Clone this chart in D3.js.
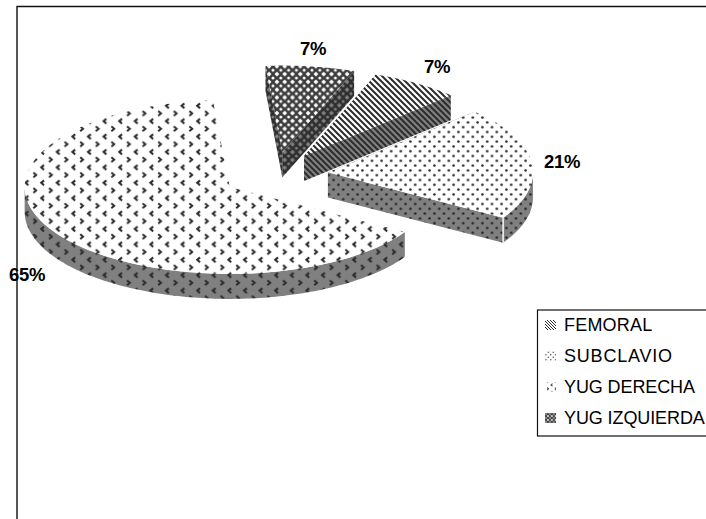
<!DOCTYPE html>
<html>
<head>
<meta charset="utf-8">
<script src="https://cdn.jsdelivr.net/npm/d3@7"></script>
<style>
html,body{margin:0;padding:0;background:#fff;overflow:hidden}
svg{display:block}
text{font-family:"Liberation Sans",Arial,sans-serif;fill:#000}
</style>
</head>
<body>
<svg id="chart" width="706" height="519"></svg>
<script>
// Catheter access sites, percent of cases
const categories = ["FEMORAL", "SUBCLAVIO", "YUG DERECHA", "YUG IZQUIERDA"];
const shares = [7, 21, 65, 7];
const shareLabels = ["7%", "21%", "65%", "7%"];

const svg = d3.select("#chart");
const W = 706, H = 519;

// Pie layout: clockwise from the top, first wedge starting a little past 12 o'clock
const firstAngle = 20.5 * Math.PI / 180;
const pie = d3.pie().sort(null).startAngle(firstAngle).endAngle(firstAngle + 2 * Math.PI);
const wedges = pie(shares);

// Tilted-disc projection
const centre = {x: 275, y: 175};
const radiusX = d3.scaleLinear().domain([0, 1]).range([0, 205]);
const radiusY = d3.scaleLinear().domain([0, 1]).range([0, 87]);
const depth = 25;
const explode = 0.26;

const project = (r, a, ox, oy, dz) => [
  centre.x + ox + radiusX(r) * Math.sin(a),
  centre.y + oy - radiusY(r) * Math.cos(a) + dz
];
const offsetOf = d => {
  const mid = (d.startAngle + d.endAngle) / 2;
  return [radiusX(explode) * Math.sin(mid), -radiusY(explode) * Math.cos(mid)];
};
const line = d3.line();
const sampleAngles = (a0, a1) => {
  const n = Math.max(2, Math.ceil(Math.abs(a1 - a0) / 0.02));
  return d3.range(n + 1).map(i => a0 + (a1 - a0) * i / n);
};

// Hatch fills: a light variant for the top surface, a dark one for the walls
const defs = svg.append("defs");
const ink = "#222";

function hatch(id, w, h, ground, draw, transform = "") {
  const p = defs.append("pattern").attr("id", id)
    .attr("patternUnits", "userSpaceOnUse")
    .attr("patternTransform", transform)
    .attr("width", w).attr("height", h);
  p.append("rect").attr("width", w).attr("height", h).attr("fill", ground);
  draw(p);
}
const stripes = p => {
  p.append("path").attr("d", "M-2,-2L8,8M-8,-2L2,8M4,-2L14,8")
    .attr("stroke", "#2c2c2c").attr("stroke-width", 2).attr("fill", "none");
};
const dots = p => {
  p.append("circle").attr("cx", 2.4).attr("cy", 2.4).attr("r", 1.3).attr("fill", ink);
  p.append("circle").attr("cx", 7.2).attr("cy", 7.2).attr("r", 1.3).attr("fill", ink);
};
const chevrons = p => {
  p.append("path").attr("d", "M2.2,1.2L5,3.6L2.2,6").attr("stroke", "#2a2a2a").attr("stroke-width", 2).attr("fill", "none");
  p.append("path").attr("d", "M12.8,9L10,11.4L12.8,13.8").attr("stroke", "#2a2a2a").attr("stroke-width", 2).attr("fill", "none");
};
const lattice = spot => p => {
  p.append("path").attr("d", "M3.9,1.5L6.3,3.9L3.9,6.3L1.5,3.9Z").attr("fill", spot);
  p.selectAll("circle").data([[0, 0], [7.8, 0], [0, 7.8], [7.8, 7.8]]).join("circle")
    .attr("cx", d => d[0]).attr("cy", d => d[1]).attr("r", 1.5).attr("fill", spot);
};

hatch("fem-top", 6, 6, "#fff", stripes);
hatch("fem-wall", 6, 6, "#808080", stripes);
hatch("sub-top", 9.6, 9.6, "#fff", dots);
hatch("sub-wall", 9.6, 9.6, "#808080", dots);
hatch("der-top", 15.6, 15.4, "#fff", chevrons, "translate(0,2)");
hatch("der-wall", 15.6, 15.4, "#808080", chevrons, "translate(0,2)");
hatch("izq-top", 7.8, 7.8, "#3c3c3c", lattice("#fff"));
hatch("izq-wall", 7.8, 7.8, "#2e2e2e", lattice("#808080"));

// The legend keys repeat the same hatches at a reduced size
const keyScale = "scale(0.5)";
hatch("fem-key", 6, 6, "#fff", stripes, keyScale);
hatch("sub-key", 9.6, 9.6, "#fff", dots, keyScale);
hatch("der-key", 15.6, 15.4, "#fff", chevrons, keyScale);
hatch("izq-key", 7.8, 7.8, "#3c3c3c", lattice("#fff"), keyScale);

const keys = ["fem", "sub", "der", "izq"];

// Chart frame: only the top and left rules fall inside the page
svg.append("path")
  .attr("d", `M17,${H}V6.5H${W}`)
  .attr("fill", "none").attr("stroke", "#111").attr("stroke-width", 1.4);

// Wedges are painted back to front
const paintOrder = [3, 0, 2, 1];
const g = svg.append("g");

paintOrder.forEach(i => {
  const d = wedges[i];
  const key = keys[i];
  const [ox, oy] = offsetOf(d);
  const a0 = d.startAngle, a1 = d.endAngle;
  const apexTop = project(0, 0, ox, oy, 0);
  const apexLow = project(0, 0, ox, oy, depth);
  const wall = `url(#${key}-wall)`;
  const radial = a => [project(1, a, ox, oy, 0), project(1, a, ox, oy, depth), apexLow, apexTop];

  // Flat cut faces at both wedge edges, only where they turn towards the viewer
  if (i !== 2) {
    [a0, a1].forEach(a => {
      g.append("path").attr("d", line(radial(a)) + "Z").attr("fill", wall);
    });
  }

  // Rounded outer wall: the part of the rim on the near half of the disc
  const lo = Math.max(a0, Math.PI / 2), hi = Math.min(a1, 3 * Math.PI / 2);
  if (hi > lo) {
    const angs = sampleAngles(lo, hi);
    const rim = angs.map(a => project(1, a, ox, oy, 0))
      .concat(angs.slice().reverse().map(a => project(1, a, ox, oy, depth)));
    g.append("path").attr("d", line(rim) + "Z").attr("fill", wall);
  }

  // Top surface
  const top = [apexTop].concat(sampleAngles(a0, a1).map(a => project(1, a, ox, oy, 0)));
  g.append("path").attr("d", line(top) + "Z").attr("fill", `url(#${key}-top)`);

  // White seam where the flat and rounded walls of the large dotted wedge meet
  if (i === 1) {
    const e0 = project(1, a1, ox, oy, 0), e1 = project(1, a1, ox, oy, depth);
    g.append("path").attr("d", line([e0, e1])).attr("stroke", "#fff").attr("stroke-width", 1.4);
  }
});

// Percentage labels
const labelAnchors = [[437, 73], [562, 168], [27, 281], [313, 55]];
svg.append("g").selectAll("text").data(shareLabels).join("text")
  .attr("x", (d, i) => labelAnchors[i][0])
  .attr("y", (d, i) => labelAnchors[i][1])
  .attr("text-anchor", "middle")
  .attr("font-size", 18.5).attr("font-weight", "bold")
  .attr("letter-spacing", -0.3)
  .text(d => d);

// Legend
const legendTracking = [0.2, 0.8, -0.1, -0.1];
const legend = svg.append("g");
legend.append("rect")
  .attr("x", 537.5).attr("y", 310).attr("width", 185).attr("height", 126)
  .attr("fill", "#fff").attr("stroke", "#111").attr("stroke-width", 1.2);
const rowY = d3.scalePoint().domain(categories).range([325, 418]);
const rows = legend.selectAll("g").data(categories).join("g")
  .attr("transform", d => `translate(0,${rowY(d)})`);
rows.append("rect")
  .attr("x", 545).attr("y", -5).attr("width", 11).attr("height", 10)
  .attr("fill", (d, i) => `url(#${keys[i]}-key)`);
rows.append("text")
  .attr("x", 564).attr("y", 6)
  .attr("font-size", 18)
  .attr("letter-spacing", (d, i) => legendTracking[i])
  .text(d => d);
</script>
</body>
</html>
